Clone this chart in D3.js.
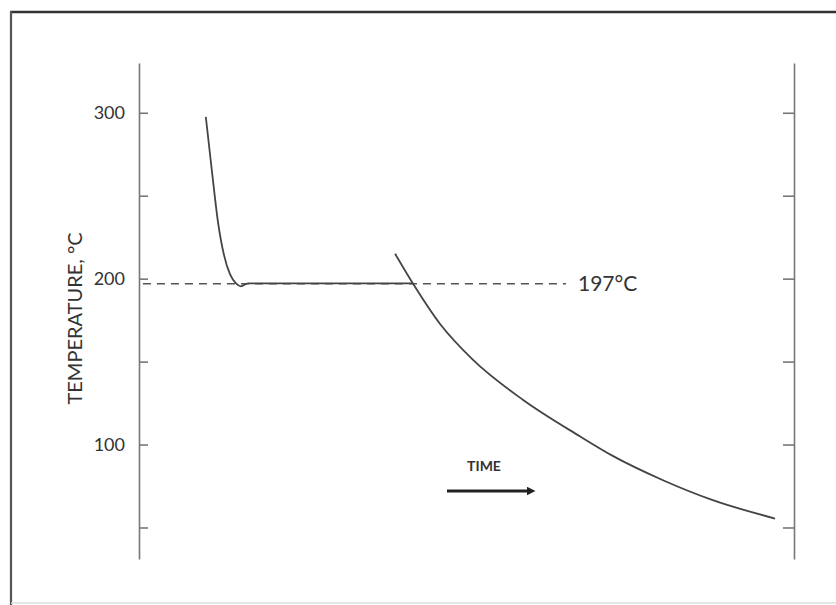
<!DOCTYPE html>
<html>
<head>
<meta charset="utf-8">
<script src="https://cdn.jsdelivr.net/npm/d3@7"></script>
<style>
  html, body { margin: 0; padding: 0; background: #fff; }
  svg { display: block; }
  text { font-family: Lato, "Open Sans", sans-serif; fill: #333; }
</style>
</head>
<body>
<svg id="chart" width="836" height="605"></svg>
<script>
// Cooling curve: temperature (°C) against time (arbitrary units, 0–100)
const tempTicks = [50, 100, 150, 200, 250, 300];
const tempLabels = ["", "100", "", "200", "", "300"];
const plateauTemp = 197;
const plateauLabel = "197°C";

// First run: fast cooling to the plateau, slight undercooling, then hold
const run1Time = [10.2, 11.15, 12.06, 12.98, 13.89, 14.81, 15.57, 16.64, 25, 35, 41.8];
const run1Temp = [297.5, 264.3, 234.1, 214.2, 202.7, 197.2, 195.4, 197.2, 197.2, 197.2, 197.2];

// Second run: continuous cooling without a hold
const run2Time = [39.1, 41.8, 46.0, 51.0, 58.6, 67.3, 72.4, 80.0, 87.6, 97.1];
const run2Temp = [215, 197.2, 172.5, 151, 127, 105, 93, 78.5, 66.5, 55.4];

// Dashed reference line at the plateau temperature
const refTime = [0.6, 65.2];

const svg = d3.select("#chart");

const x = d3.scaleLinear().domain([0, 100]).range([139, 794]);
const y = d3.scaleLinear().domain([31, 330]).range([559, 63]);

// Outer frame: strong top and left edges, faint bottom edge
svg.append("line")
  .attr("x1", 10).attr("x2", 836).attr("y1", 12).attr("y2", 12)
  .attr("stroke", "#333").attr("stroke-width", 2.6);
svg.append("line")
  .attr("x1", 11).attr("x2", 11).attr("y1", 11).attr("y2", 605)
  .attr("stroke", "#555").attr("stroke-width", 2.2);
svg.append("line")
  .attr("x1", 11).attr("x2", 836).attr("y1", 603).attr("y2", 603)
  .attr("stroke", "#ddd").attr("stroke-width", 1.5);

// Left axis: ticks point inward (right), labels every 100
const leftAxis = d3.axisLeft(y)
  .tickValues(tempTicks)
  .tickFormat((d, i) => tempLabels[i])
  .tickSizeInner(-9)
  .tickSizeOuter(0)
  .tickPadding(14);

const gl = svg.append("g")
  .attr("transform", `translate(${x(0)},0)`)
  .call(leftAxis);
gl.selectAll("path.domain, line").attr("stroke", "#777").attr("stroke-width", 1.6);
gl.selectAll("text")
  .style("font-family", "Lato, 'Open Sans', sans-serif")
  .style("font-size", "18px")
  .attr("fill", "#222");

// Right axis: ticks point inward (left), no labels
const rightAxis = d3.axisLeft(y)
  .tickValues(tempTicks)
  .tickFormat("")
  .tickSizeInner(11)
  .tickSizeOuter(0);

const gr = svg.append("g")
  .attr("transform", `translate(${x(100)},0)`)
  .call(rightAxis);
gr.selectAll("path.domain, line").attr("stroke", "#777").attr("stroke-width", 1.6);

// Y-axis title
svg.append("text")
  .attr("transform", `translate(82,${y(176)}) rotate(-90)`)
  .attr("text-anchor", "middle")
  .style("font-size", "20px")
  .attr("fill", "#222")
  .text("TEMPERATURE, °C");

// Plateau reference line
svg.append("line")
  .attr("x1", x(refTime[0])).attr("x2", x(refTime[1]))
  .attr("y1", y(plateauTemp)).attr("y2", y(plateauTemp))
  .attr("stroke", "#555")
  .attr("stroke-width", 1.5)
  .attr("stroke-dasharray", "8,6");

svg.append("text")
  .attr("x", 578)
  .attr("y", y(plateauTemp) + 7)
  .style("font-size", "21px")
  .attr("fill", "#222")
  .text(plateauLabel);

// Cooling curves
const line = d3.line()
  .x(d => x(d[0]))
  .y(d => y(d[1]))
  .curve(d3.curveMonotoneX);

const run1 = run1Time.map((t, i) => [t, run1Temp[i]]);
const run2 = run2Time.map((t, i) => [t, run2Temp[i]]);

[run1, run2].forEach(pts => {
  svg.append("path")
    .datum(pts)
    .attr("d", line)
    .attr("fill", "none")
    .attr("stroke", "#444")
    .attr("stroke-width", 1.8);
});

// Time direction arrow
svg.append("defs").append("marker")
  .attr("id", "arrowhead")
  .attr("viewBox", "0 0 10 10")
  .attr("refX", 5).attr("refY", 5)
  .attr("markerWidth", 3).attr("markerHeight", 3)
  .attr("orient", "auto")
  .append("path")
  .attr("d", "M0,0 L10,5 L0,10 z")
  .attr("fill", "#222");

svg.append("line")
  .attr("x1", 447).attr("x2", 531)
  .attr("y1", 491).attr("y2", 491)
  .attr("stroke", "#222")
  .attr("stroke-width", 3)
  .attr("marker-end", "url(#arrowhead)");

svg.append("text")
  .attr("x", 484)
  .attr("y", 471)
  .attr("text-anchor", "middle")
  .style("font-size", "14px")
  .style("font-weight", "bold")
  .attr("fill", "#444")
  .text("TIME");
</script>
</body>
</html>
